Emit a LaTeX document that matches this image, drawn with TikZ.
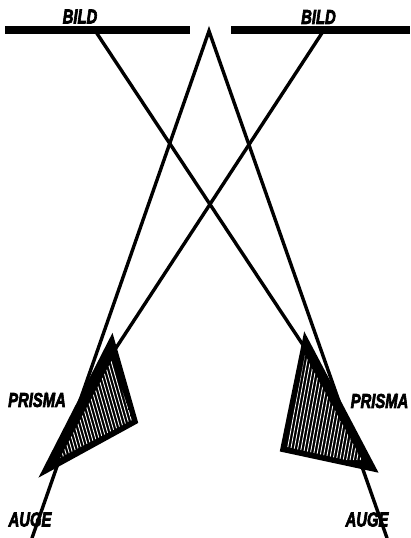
\documentclass[tikz,border=0pt]{standalone}
\usepackage{fontspec}
\setsansfont[BoldItalicFeatures={FakeBold=4}]{Liberation Sans}
\usetikzlibrary{backgrounds,positioning,calc}
\pgfdeclarelayer{edgelayer}
\pgfdeclarelayer{nodelayer}
\pgfsetlayers{background,edgelayer,nodelayer,main}
\tikzstyle{none}=[inner sep=0mm]
\tikzstyle{lbl}=[inner sep=0mm,font=\fontsize{20}{20}\selectfont\sffamily\bfseries\itshape,xscale=0.74]
\tikzstyle{bar}=[line width=8pt]
\tikzstyle{ray}=[line width=3.4pt,line cap=round]
\tikzstyle{prism}=[line width=3.8pt,line join=miter,fill=black]
\tikzstyle{hatch}=[white,line width=0.9pt]

\begin{document}
\begin{tikzpicture}[x=1pt,y=-1pt]
	\useasboundingbox (0, 0) rectangle (410, 538);
	\begin{pgfonlayer}{nodelayer}
		\node [style=none] (barLa) at (5, 29.5) {};
		\node [style=none] (barLb) at (190, 29.5) {};
		\node [style=none] (barRa) at (231, 30) {};
		\node [style=none] (barRb) at (410, 30) {};
		\node [style=none] (apex) at (209, 31) {};
		\node [style=none] (bildL) at (96, 32) {};
		\node [style=none] (bildR) at (322, 33) {};
		\node [style=none] (endL) at (114, 351) {};
		\node [style=none] (endR) at (303, 345) {};
		\node [style=none] (augeL) at (32, 538) {};
		\node [style=none] (augeR) at (387, 538) {};
		\node [style=none] (pLa) at (112, 338) {};
		\node [style=none] (pLb) at (136, 422) {};
		\node [style=none] (pLc) at (43, 473) {};
		\node [style=none] (pRa) at (305, 337) {};
		\node [style=none] (pRb) at (282, 450) {};
		\node [style=none] (pRc) at (375, 470) {};
		\node [style=lbl] (bildtextL) at (80, 16.5) {BILD};
		\node [style=lbl] (bildtextR) at (318.5, 17) {BILD};
		\node [style=lbl] (prismatextL) at (37, 400) {PRISMA};
		\node [style=lbl] (prismatextR) at (379.5, 401) {PRISMA};
		\node [style=lbl] (augetextL) at (30, 519.5) {AUGE};
		\node [style=lbl] (augetextR) at (367, 519.5) {AUGE};
	\end{pgfonlayer}
	\begin{pgfonlayer}{edgelayer}
		\draw [style=bar] (barLa.center) to (barLb.center);
		\draw [style=bar] (barRa.center) to (barRb.center);
		\draw [style=ray] (bildL.center) to (endR.center);
		\draw [style=ray] (bildR.center) to (endL.center);
		\draw [style=ray,line join=miter] (augeL.center) to (apex.center) to (augeR.center);
		% left prism
		\draw [style=prism] (pLa.center) to (pLb.center) to (pLc.center) to cycle;
		\begin{scope}
			\clip (112, 360) -- (132, 420) -- (60, 458) -- cycle;
			\foreach \x in {0,3.4,...,120}
				\draw [style=hatch] (40+\x, 470) to (3+\x, 340);
		\end{scope}
		% right prism
		\draw [style=prism] (pRa.center) to (pRb.center) to (pRc.center) to cycle;
		\begin{scope}
			\clip (305, 355) -- (287, 447) -- (364, 464) -- cycle;
			\foreach \x in {0,3.4,...,100}
				\draw [style=hatch] (282+\x, 460) to (304+\x, 340);
		\end{scope}
	\end{pgfonlayer}
\end{tikzpicture}
\end{document}
